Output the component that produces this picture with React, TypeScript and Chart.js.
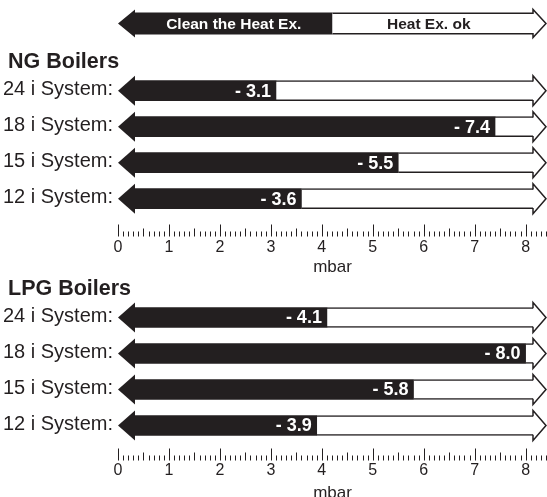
import React, { useEffect, useRef } from 'react';
import { Chart, registerables } from 'chart.js';

Chart.register(...registerables);

// ---------- data ----------
const rowLabels = ['24 i System:', '18 i System:', '15 i System:', '12 i System:'];
const ngValues = [3.1, 7.4, 5.5, 3.6];
const lpgValues = [4.1, 8.0, 5.8, 3.9];
const tickLabels = ['0', '1', '2', '3', '4', '5', '6', '7', '8'];
const headerLabels = ['Clean the Heat Ex.', 'Heat Ex. ok'];
const groupTitles = ['NG Boilers', 'LPG Boilers'];
const axisTitle = 'mbar';
const AXIS_MAX = 8.42;
const TICK_STEP = 0.1;

// ---------- style ----------
const INK = '#231f20';
const FONT = '"Liberation Sans", Arial, Helvetica, sans-serif';
const HEAD_L = 17;
const HEAD_R = 14;
const HEAD_H = 15;

const arrowPlugin = {
  id: 'arrowBars',
  afterDatasetsDraw(chart: any, _args: any, opts: any) {
    const ctx = chart.ctx;
    const xs = chart.scales.x;
    const left = xs.getPixelForValue(0);
    const right = xs.getPixelForValue(AXIS_MAX);
    const els = chart.getDatasetMeta(0).data;
    const values = chart.data.datasets[0].data as number[];
    ctx.save();
    els.forEach((el: any, i: number) => {
      const { x, y, height } = el.getProps(['x', 'y', 'height'], true);
      const bh = height / 2;
      // left arrow head (black)
      ctx.fillStyle = '#ffffff';
      ctx.fillRect(left - 1, y - bh - 1, HEAD_L + 1, height + 2);
      ctx.beginPath();
      ctx.moveTo(left, y);
      ctx.lineTo(left + HEAD_L, y - HEAD_H);
      ctx.lineTo(left + HEAD_L, y + HEAD_H);
      ctx.closePath();
      ctx.fillStyle = INK;
      ctx.fill();
      // right arrow head (outlined)
      const hs = right - HEAD_R;
      ctx.fillStyle = '#ffffff';
      ctx.fillRect(hs, y - bh - 1, HEAD_R + 2, height + 2);
      ctx.beginPath();
      ctx.moveTo(hs, y - bh + 0.75);
      ctx.lineTo(hs, y - HEAD_H);
      ctx.lineTo(right - 1, y);
      ctx.lineTo(hs, y + HEAD_H);
      ctx.lineTo(hs, y + bh - 0.75);
      ctx.fill();
      ctx.strokeStyle = INK;
      ctx.lineWidth = 1.5;
      ctx.lineJoin = 'miter';
      ctx.stroke();
      // value label
      ctx.fillStyle = '#ffffff';
      ctx.font = `bold 18px ${FONT}`;
      ctx.textAlign = 'right';
      ctx.textBaseline = 'middle';
      ctx.fillText('- ' + values[i].toFixed(1), x - 5, y + 1);
    });
    ctx.restore();
  },
  afterDraw(chart: any, _args: any, opts: any) {
    const ctx = chart.ctx;
    const xs = chart.scales.x;
    ctx.save();
    // group title
    ctx.font = `bold 21.5px ${FONT}`;
    ctx.fillStyle = INK;
    ctx.textAlign = 'left';
    ctx.textBaseline = 'middle';
    ctx.fillText(opts.title, 8, chart.chartArea.top - 10.5);
    // ruler ticks
    const base = chart.chartArea.bottom + opts.rulerGap;
    ctx.strokeStyle = INK;
    ctx.lineWidth = 1;
    xs.ticks.forEach((t: any) => {
      const k = Math.round(t.value * 10);
      const len = k % 10 === 0 ? 12 : k % 5 === 0 ? 8 : 5;
      const px = Math.round(xs.getPixelForValue(t.value)) + 0.5;
      ctx.beginPath();
      ctx.moveTo(px, base - len);
      ctx.lineTo(px, base);
      ctx.stroke();
    });
    // header arrow
    if (opts.header) {
      const y = opts.headerY;
      const l = xs.getPixelForValue(0);
      const r = xs.getPixelForValue(AXIS_MAX);
      const mid = (l + r) / 2;
      const bh = 11;
      const hh = 14;
      ctx.beginPath();
      ctx.moveTo(l, y);
      ctx.lineTo(l + HEAD_L, y - hh);
      ctx.lineTo(l + HEAD_L, y - bh);
      ctx.lineTo(mid, y - bh);
      ctx.lineTo(mid, y + bh);
      ctx.lineTo(l + HEAD_L, y + bh);
      ctx.lineTo(l + HEAD_L, y + hh);
      ctx.closePath();
      ctx.fillStyle = INK;
      ctx.fill();
      const hs = r - HEAD_R;
      ctx.beginPath();
      ctx.moveTo(mid, y - bh + 0.75);
      ctx.lineTo(hs, y - bh + 0.75);
      ctx.lineTo(hs, y - hh);
      ctx.lineTo(r - 1, y);
      ctx.lineTo(hs, y + hh);
      ctx.lineTo(hs, y + bh - 0.75);
      ctx.lineTo(mid, y + bh - 0.75);
      ctx.fillStyle = '#ffffff';
      ctx.fill();
      ctx.strokeStyle = INK;
      ctx.lineWidth = 1.5;
      ctx.stroke();
      ctx.font = `bold 15.5px ${FONT}`;
      ctx.textAlign = 'center';
      ctx.textBaseline = 'middle';
      ctx.fillStyle = '#ffffff';
      ctx.fillText(headerLabels[0], (l + HEAD_L + mid) / 2, y + 1);
      ctx.fillStyle = INK;
      ctx.fillText(headerLabels[1], (mid + hs) / 2 - 4, y + 1);
    }
    ctx.restore();
  },
};

type PanelCfg = {
  title: string;
  values: number[];
  height: number;
  padTop: number;
  axisHeight: number;
  tickPad: number;
  titlePadBottom: number;
  rulerGap: number;
  header: boolean;
};

function Panel({ cfg }: { cfg: PanelCfg }) {
  const ref = useRef<HTMLCanvasElement | null>(null);
  useEffect(() => {
    if (!ref.current) return;
    const chart = new Chart(ref.current, {
      type: 'bar',
      data: {
        labels: rowLabels,
        datasets: [
          {
            data: cfg.values,
            backgroundColor: INK,
            borderWidth: 0,
            barThickness: 20,
          },
          {
            data: cfg.values.map((v) => AXIS_MAX - v),
            backgroundColor: '#ffffff',
            borderColor: INK,
            borderWidth: { top: 1.5, bottom: 1.5, left: 0, right: 0 },
            borderSkipped: false,
            barThickness: 20,
          },
        ],
      },
      options: {
        indexAxis: 'y',
        responsive: false,
        animation: false,
        events: [],
        layout: { padding: { top: cfg.padTop, left: 0, right: 0, bottom: 0 } },
        scales: {
          x: {
            type: 'linear',
            min: 0,
            max: AXIS_MAX,
            bounds: 'data',
            stacked: true,
            grid: { display: false, drawTicks: false },
            border: { display: false },
            ticks: {
              stepSize: TICK_STEP,
              autoSkip: false,
              maxRotation: 0,
              includeBounds: false,
              padding: cfg.tickPad,
              color: INK,
              font: { family: FONT, size: 16 },
              callback: (v: any) => {
                const k = Math.round(Number(v) * 10);
                return k % 10 === 0 ? tickLabels[k / 10] ?? '' : '';
              },
            },
            title: {
              display: true,
              text: axisTitle,
              color: INK,
              font: { family: FONT, size: 17 },
              padding: { top: 0, bottom: cfg.titlePadBottom },
            },
            afterFit: (s: any) => {
              s.height = cfg.axisHeight;
              s.paddingLeft = 0;
              s.paddingRight = 0;
            },
          },
          y: {
            type: 'category',
            stacked: true,
            grid: { display: false, drawTicks: false },
            border: { display: false },
            ticks: {
              crossAlign: 'near',
              padding: 5,
              labelOffset: -1,
              color: INK,
              font: { family: FONT, size: 20 },
            },
            afterFit: (s: any) => {
              s.width = 118;
            },
          },
        },
        plugins: {
          legend: { display: false },
          tooltip: { enabled: false },
          title: { display: false },
          arrowBars: { title: cfg.title, rulerGap: cfg.rulerGap, header: cfg.header, headerY: 23.5 },
        } as any,
      },
      plugins: [arrowPlugin],
    } as any);
    return () => chart.destroy();
  }, [cfg]);
  return <canvas ref={ref} width={547} height={cfg.height} style={{ display: 'block' }} />;
}

const ngCfg: PanelCfg = {
  title: groupTitles[0],
  values: ngValues,
  height: 278,
  padTop: 72.7,
  axisHeight: 61.3,
  tickPad: 21,
  titlePadBottom: 0.3,
  rulerGap: 19.8,
  header: true,
};

const lpgCfg: PanelCfg = {
  title: groupTitles[1],
  values: lpgValues,
  height: 227,
  padTop: 21.5,
  axisHeight: 61.5,
  tickPad: 17.5,
  titlePadBottom: 1.8,
  rulerGap: 17,
  header: false,
};

export default function App() {
  useEffect(() => {
    document.body.style.margin = '0';
    document.body.style.background = '#ffffff';
  }, []);
  return (
    <div style={{ position: 'relative', width: 547, height: 497, overflow: 'hidden', background: '#fff' }}>
      <div style={{ position: 'absolute', left: 0, top: 0 }}>
        <Panel cfg={ngCfg} />
      </div>
      <div style={{ position: 'absolute', left: 0, top: 278 }}>
        <Panel cfg={lpgCfg} />
      </div>
    </div>
  );
}
